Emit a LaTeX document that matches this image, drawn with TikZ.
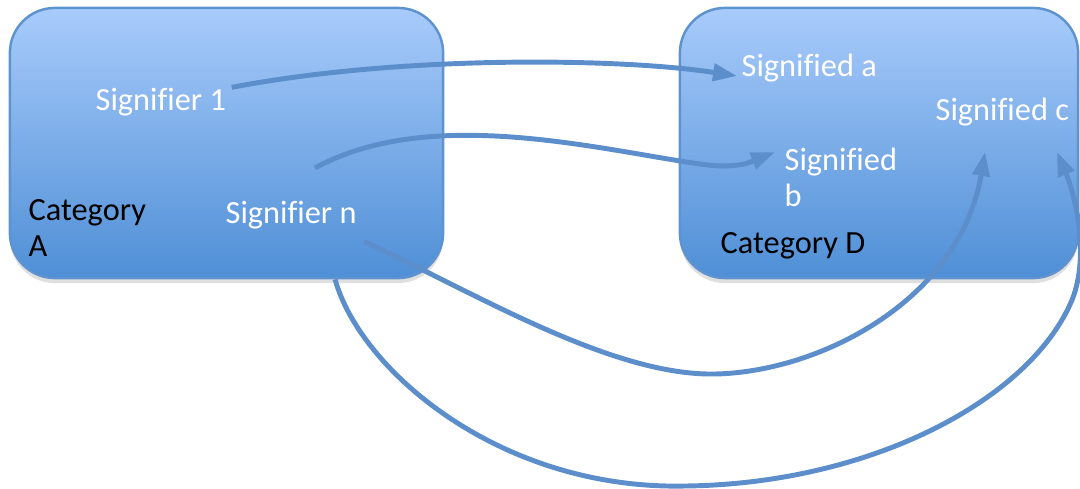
\documentclass[tikz,border=0pt]{standalone}
\usepackage{fontspec}
\setmainfont{Carlito}[Ligatures=CommonOff]
\usepackage{xcolor}
\usepackage{tikz}
\usetikzlibrary{arrows.meta,positioning,shadows}
\definecolor{BoxTop}{HTML}{A8CBFB}
\definecolor{BoxBottom}{HTML}{4F8FD6}
\definecolor{BoxLine}{HTML}{5F93CF}
\definecolor{Link}{HTML}{5B8ECB}

\begin{document}
\begin{tikzpicture}[
    x=0.01cm, y=-0.01cm,
    catbox/.style={rectangle,rounded corners=0.45cm,draw=BoxLine,line width=0.7pt,
      top color=BoxTop,bottom color=BoxBottom,minimum height=2.70cm,
      drop shadow={opacity=0.25,shadow xshift=0pt,shadow yshift=-0.05cm}},
    sign/.style={inner sep=0pt,anchor=west,text=white,align=left,font=\fontsize{9.2}{10.2}\selectfont},
    cat/.style={sign,text=black},
    link/.style={draw=Link,line width=1.4pt,-{Triangle[length=0.24cm,width=0.17cm]}},
]
\useasboundingbox (0,0) rectangle (1080,488);

\node[catbox,minimum width=4.33cm] (boxA) at (226.5,143) {};
\node[catbox,minimum width=3.98cm] (boxD) at (879,143) {};

\node[sign] (sig1) at (95,102) {Signifier 1};
\node[sign] (sign) at (225,215) {Signifier n};
\node[cat] (catA) at (28,228) {Category\\A};

\node[sign] (sga) at (741,68) {Signified a};
\node[sign] (sgb) at (784,177) {Signified\\b};
\node[sign] (sgc) at (935,112) {Signified c};
\node[cat] (catD) at (720,246) {Category D};

\coordinate (from2) at (315,168);
\coordinate (to3) at (985,152);
\coordinate (to4) at (1057,152);

\draw[link] ([shift={(5,0)}]sig1.north east) .. controls (400,55) and (620,58) .. ([shift={(-4,8)}]sga.west);
\draw[link] (from2) .. controls (430,105) and (600,150) .. (700,164)
  .. controls (740,170) and (755,160) .. ([shift={(-9,-25)}]sgb.west);
\draw[link] ([shift={(7,12)}]sign.south east) .. controls (470,290) and (610,376) .. (715,374)
  .. controls (820,372) and (960,300) .. (to3);
\draw[link] ([xshift=1.085cm]boxA.south) .. controls (360,370) and (500,490) .. (685,486)
  .. controls (870,484) and (1030,400) .. (1072,300)
  .. controls (1090,255) and (1075,195) .. (to4);
\end{tikzpicture}
\end{document}
